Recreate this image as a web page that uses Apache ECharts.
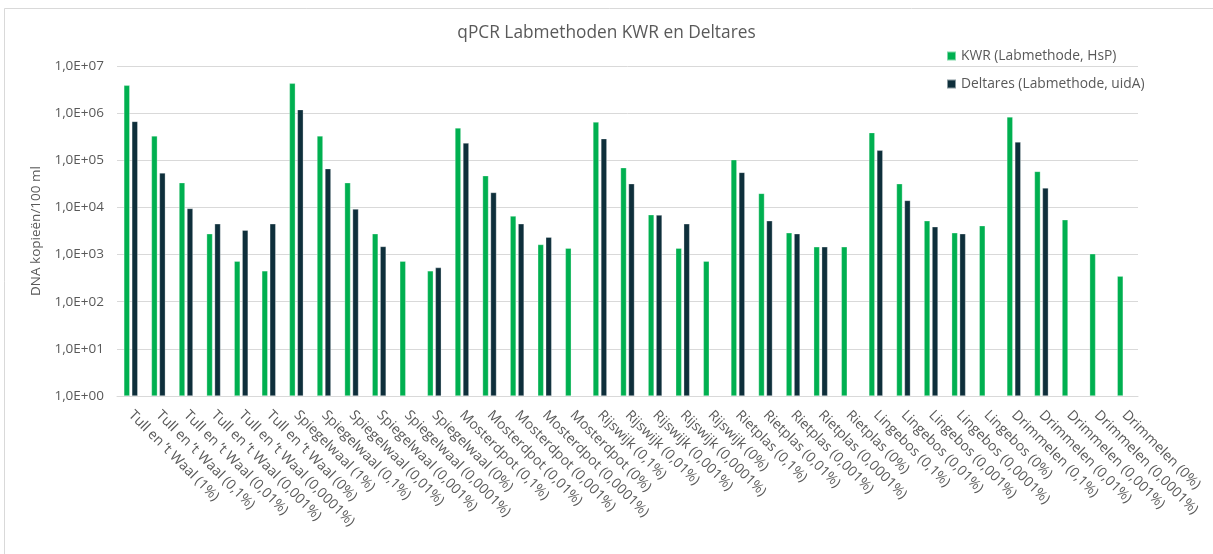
<!DOCTYPE html>
<html>
<head>
<meta charset="utf-8">
<title>qPCR Labmethoden KWR en Deltares</title>
<script src="https://cdn.jsdelivr.net/npm/echarts@6/dist/echarts.min.js"></script>
<style>
  html, body { margin: 0; padding: 0; background: #ffffff; }
  #chart { width: 1213px; height: 554px; }
</style>
</head>
<body>
<div id="chart"></div>
<script>
// Sample names: location + dilution
const categories = [
  "Tull en ’t Waal (1%)", "Tull en ’t Waal (0,1%)", "Tull en ’t Waal (0,01%)",
  "Tull en ’t Waal (0,001%)", "Tull en ’t Waal (0,0001%)", "Tull en ’t Waal (0%)",
  "Spiegelwaal (1%)", "Spiegelwaal (0,1%)", "Spiegelwaal (0,01%)",
  "Spiegelwaal (0,001%)", "Spiegelwaal (0,0001%)", "Spiegelwaal (0%)",
  "Mosterdpot (0,1%)", "Mosterdpot (0,01%)", "Mosterdpot (0,001%)",
  "Mosterdpot (0,0001%)", "Mosterdpot (0%)",
  "Rijswijk (0,1%)", "Rijswijk (0,01%)", "Rijswijk (0,001%)",
  "Rijswijk (0,0001%)", "Rijswijk (0%)",
  "Rietplas (0,1%)", "Rietplas (0,01%)", "Rietplas (0,001%)",
  "Rietplas (0,0001%)", "Rietplas (0%)",
  "Lingebos (0,1%)", "Lingebos (0,01%)", "Lingebos (0,001%)",
  "Lingebos (0,0001%)", "Lingebos (0%)",
  "Drimmelen (0,1%)", "Drimmelen (0,01%)", "Drimmelen (0,001%)",
  "Drimmelen (0,0001%)", "Drimmelen (0%)"
];

// KWR (Labmethode, HsP) – DNA copies per 100 ml
const kwrValues = [
  3.9e6, 3.3e5, 3.35e4, 2.77e3, 727, 452,
  4.3e6, 3.3e5, 3.35e4, 2.77e3, 727, 452,
  4.87e5, 4.72e4, 6.57e3, 1.64e3, 1.37e3,
  6.5e5, 6.98e4, 7.0e3, 1.37e3, 727,
  1.03e5, 1.99e4, 2.9e3, 1.46e3, 1.46e3,
  3.87e5, 3.19e4, 5.22e3, 2.9e3, 4.1e3,
  8.34e5, 5.82e4, 5.48e3, 1.04e3, 349
];

// Deltares (Labmethode, uidA) – DNA copies per 100 ml (null = not measured)
const deltaresValues = [
  6.7e5, 5.4e4, 9.5e3, 4.5e3, 3.3e3, 4.5e3,
  1.19e6, 6.65e4, 9.25e3, 1.49e3, null, 531,
  2.33e5, 2.08e4, 4.5e3, 2.35e3, null,
  2.88e5, 3.19e4, 6.9e3, 4.5e3, null,
  5.55e4, 5.22e3, 2.77e3, 1.46e3, null,
  1.63e5, 1.41e4, 3.89e3, 2.77e3, null,
  2.45e5, 2.59e4, null, null, null
];

// Log-axis tick labels, 10^0 … 10^7
const yTickLabels = [
  "1,0E+00", "1,0E+01", "1,0E+02", "1,0E+03",
  "1,0E+04", "1,0E+05", "1,0E+06", "1,0E+07"
];

const seriesNames = ["KWR (Labmethode, HsP)", "Deltares (Labmethode, uidA)"];

const FONT = "'Open Sans', Lato, sans-serif";
const TEXT = "#595959";
const GRID = "#d9d9d9";

const chart = echarts.init(document.getElementById("chart"), null, { renderer: "canvas" });

chart.setOption({
  backgroundColor: "#ffffff",
  animation: false,
  textStyle: { fontFamily: FONT },
  graphic: [{
    type: "rect",
    shape: { x: 4.5, y: 8.5, width: 1220, height: 560 },
    style: { fill: "none", stroke: "#d9d9d9", lineWidth: 1 },
    silent: true,
    z: -1
  }],
  title: {
    text: "qPCR Labmethoden KWR en Deltares",
    left: "center",
    top: 20,
    textStyle: { fontFamily: FONT, fontSize: 17.3, fontWeight: "normal", color: TEXT }
  },
  legend: {
    orient: "vertical",
    left: 941,
    top: 44,
    itemWidth: 9,
    itemHeight: 9,
    itemGap: 14,
    icon: "rect",
    textStyle: { fontFamily: FONT, fontSize: 13.8, color: TEXT },
    data: seriesNames
  },
  grid: {
    left: 117,
    right: 75,
    top: 66,
    bottom: 158,
    containLabel: false
  },
  xAxis: {
    type: "category",
    data: categories,
    axisLine: { lineStyle: { color: GRID, width: 1 } },
    axisTick: { show: false },
    axisLabel: {
      interval: 0,
      rotate: -45,
      margin: 17,
      fontFamily: FONT,
      fontSize: 14,
      color: TEXT
    }
  },
  yAxis: {
    type: "log",
    logBase: 10,
    min: 1,
    max: 1e7,
    name: "DNA kopieën/100 ml",
    nameLocation: "middle",
    nameGap: 72,
    nameRotate: 90,
    nameTextStyle: { fontFamily: FONT, fontSize: 13.5, color: TEXT },
    axisLine: { show: false },
    axisTick: { show: false },
    splitLine: { lineStyle: { color: GRID, width: 1 } },
    axisLabel: {
      margin: 13,
      fontFamily: FONT,
      fontSize: 13.5,
      color: TEXT,
      formatter: function (v) {
        const e = Math.round(Math.log10(v));
        return yTickLabels[e] !== undefined ? yTickLabels[e] : "";
      }
    }
  },
  series: [
    {
      name: seriesNames[0],
      type: "bar",
      data: kwrValues,
      barWidth: 6,
      barGap: "33%",
      itemStyle: { color: "#00b050", borderColor: "rgba(255,255,255,0.5)", borderWidth: 0.6 }
    },
    {
      name: seriesNames[1],
      type: "bar",
      data: deltaresValues,
      barWidth: 6,
      itemStyle: { color: "#0e2f3b", borderColor: "rgba(255,255,255,0.5)", borderWidth: 0.6 }
    }
  ]
});
</script>
</body>
</html>
